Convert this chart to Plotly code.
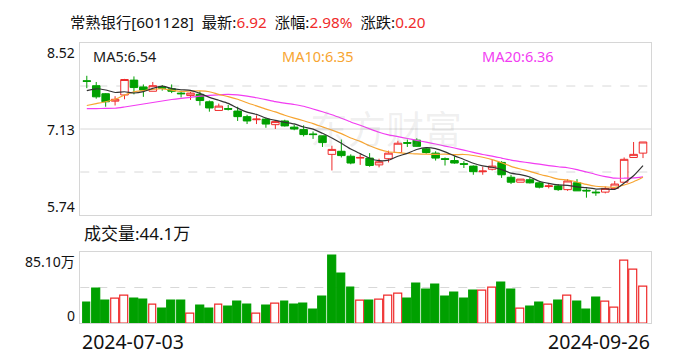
import numpy as np
import pandas as pd
import plotly.graph_objects as go

# ---------------- data ----------------
stock_name = "常熟银行"
stock_code = "601128"
start_label = "2024-07-03"
end_label = "2024-09-26"

opens = [7.91, 7.83, 7.70, 7.58, 7.68, 7.92, 7.81, 7.74, 7.81, 7.78,
         7.71, 7.67, 7.69, 7.57, 7.43, 7.46, 7.42, 7.33, 7.28, 7.29,
         7.20, 7.26, 7.16, 7.12, 7.05, 7.02, 6.72, 6.77, 6.69, 6.66,
         6.66, 6.55, 6.65, 6.75, 6.91, 6.95, 6.81, 6.74, 6.65, 6.62,
         6.57, 6.53, 6.44, 6.48, 6.59, 6.35, 6.27, 6.31, 6.26, 6.20,
         6.21, 6.15, 6.26, 6.14, 6.11, 6.11, 6.17, 6.27, 6.67, 6.74]
highs = [7.99, 7.89, 7.71, 7.66, 7.94, 7.98, 7.85, 7.89, 7.84, 7.85,
         7.75, 7.73, 7.74, 7.59, 7.54, 7.52, 7.49, 7.36, 7.35, 7.31,
         7.26, 7.28, 7.20, 7.19, 7.09, 7.02, 6.86, 6.96, 6.72, 6.72,
         6.74, 6.65, 6.78, 6.94, 6.96, 6.98, 6.83, 6.77, 6.67, 6.69,
         6.61, 6.54, 6.52, 6.63, 6.61, 6.39, 6.32, 6.35, 6.29, 6.25,
         6.24, 6.32, 6.32, 6.17, 6.15, 6.20, 6.29, 6.67, 6.92, 6.92]
lows = [7.79, 7.62, 7.49, 7.51, 7.61, 7.69, 7.65, 7.74, 7.75, 7.71,
        7.64, 7.60, 7.51, 7.41, 7.43, 7.43, 7.26, 7.21, 7.21, 7.15,
        7.13, 7.17, 7.11, 7.01, 6.97, 6.84, 6.46, 6.67, 6.56, 6.55,
        6.52, 6.51, 6.59, 6.75, 6.84, 6.85, 6.73, 6.62, 6.54, 6.57,
        6.50, 6.39, 6.39, 6.46, 6.34, 6.24, 6.27, 6.25, 6.17, 6.17,
        6.13, 6.13, 6.13, 6.02, 6.05, 6.09, 6.17, 6.27, 6.67, 6.66]
closes = [7.90, 7.65, 7.57, 7.61, 7.93, 7.80, 7.76, 7.83, 7.79, 7.74,
          7.70, 7.71, 7.59, 7.47, 7.50, 7.45, 7.33, 7.26, 7.29, 7.21,
          7.25, 7.18, 7.13, 7.04, 7.04, 6.91, 6.80, 6.70, 6.58, 6.67,
          6.54, 6.60, 6.74, 6.90, 6.90, 6.85, 6.75, 6.66, 6.64, 6.58,
          6.56, 6.44, 6.45, 6.53, 6.39, 6.27, 6.32, 6.26, 6.19, 6.21,
          6.15, 6.29, 6.13, 6.13, 6.10, 6.17, 6.24, 6.64, 6.72, 6.92]
# volume in 万 (10k shares)
volumes = [24.5, 40.8, 26.5, 29.7, 33.3, 28.9, 27.7, 22.6, 17.0, 26.5,
           26.5, 11.9, 20.6, 17.0, 22.6, 19.4, 25.3, 21.7, 11.9, 20.6,
           23.8, 25.3, 21.7, 22.9, 15.8, 31.3, 80.0, 58.6, 42.0, 27.3,
           26.5, 28.5, 33.3, 35.7, 28.9, 46.7, 39.6, 45.5, 31.3, 36.0,
           28.9, 38.4, 38.4, 42.0, 47.9, 39.6, 17.0, 19.4, 24.1, 21.7,
           26.5, 33.3, 25.3, 15.8, 30.1, 25.3, 18.2, 74.0, 63.3, 44.1]

ma5_head = [7.75, 7.78, 7.76, 7.72]
ma10_head = [7.51, 7.54, 7.57, 7.61, 7.68, 7.73, 7.75, 7.77, 7.78]
ma20_head = [7.458, 7.460, 7.463, 7.465, 7.486, 7.510, 7.534, 7.558, 7.583, 7.607,
             7.626, 7.642, 7.660, 7.673, 7.683, 7.689, 7.680, 7.660, 7.635]

price_ticks = [8.52, 7.13, 5.74]
vol_max = 85.10

# ---------------- derived ----------------
RED = "#ef2b2b"
GREEN = "#00a000"
FONT = "Noto Sans, Noto Sans CJK SC, sans-serif"

n = len(closes)
xs = list(range(n))
cs = pd.Series(closes)


def ma(win, head):
    m = cs.rolling(win).mean().to_numpy()
    m[:len(head)] = head
    return m


ma5 = ma(5, ma5_head)
ma10 = ma(10, ma10_head)
ma20 = ma(20, ma20_head)

up_vol = [(closes[i] > closes[i - 1]) if i > 0 else (closes[0] > opens[0]) for i in range(n)]
bar_fill = ["white" if u else GREEN for u in up_vol]
bar_line = [RED if u else GREEN for u in up_vol]

last = closes[-1]
chg = closes[-1] - closes[-2]
pct = chg / closes[-2] * 100

W, H = 688, 360
L, R = 80.3, 651.3
P_TOP, P_BOT = 43.0, 215.0
V_TOP, V_BOT = 251.7, 323.3


def px(x):
    return x / W


def py(y):
    return 1 - y / H


fig = go.Figure()

fig.add_trace(go.Candlestick(
    x=xs, open=opens, high=highs, low=lows, close=closes,
    increasing=dict(line=dict(color=RED, width=1), fillcolor="white"),
    decreasing=dict(line=dict(color=GREEN, width=1), fillcolor=GREEN),
    whiskerwidth=0, showlegend=False, hoverinfo="skip",
    xaxis="x", yaxis="y"))

for vals, col in [(ma20, "#f23cf2"), (ma10, "#f7a531"), (ma5, "#333333")]:
    fig.add_trace(go.Scatter(x=xs, y=vals, mode="lines",
                             line=dict(color=col, width=1.2, shape="spline", smoothing=0.6),
                             showlegend=False, hoverinfo="skip",
                             xaxis="x", yaxis="y"))

fig.add_trace(go.Bar(x=xs, y=volumes, width=0.84,
                     marker=dict(color=bar_fill, line=dict(color=bar_line, width=1.2)),
                     showlegend=False, hoverinfo="skip",
                     xaxis="x2", yaxis="y2"))

xr = [-0.69, 59.88]
axis_common = dict(showgrid=False, zeroline=False, showticklabels=False,
                   showline=True, mirror=True, linecolor="#d6d6d6", linewidth=1,
                   ticks="", fixedrange=True)

fig.update_layout(
    width=W, height=H,
    margin=dict(l=0, r=0, t=0, b=0),
    paper_bgcolor="white", plot_bgcolor="white",
    boxgap=0.2, boxgroupgap=0,
    bargap=0,
    xaxis=dict(domain=[px(L), px(R)], range=xr, anchor="y",
               rangeslider=dict(visible=False), **axis_common),
    yaxis=dict(domain=[py(P_BOT), py(P_TOP)], range=[price_ticks[-1], price_ticks[0]],
               anchor="x", **axis_common),
    xaxis2=dict(domain=[px(L), px(R)], range=xr, anchor="y2", **axis_common),
    yaxis2=dict(domain=[py(V_BOT), py(V_TOP)], range=[0, vol_max], anchor="x2", **axis_common),
)

# grid lines
lo, hi = price_ticks[-1], price_ticks[0]
step = (hi - lo) / 4
shapes = []
for k, dash in [(1, "dash"), (2, "solid"), (3, "dash")]:
    yv = lo + k * step
    shapes.append(dict(type="line", xref="x domain", yref="y", x0=0, x1=1, y0=yv, y1=yv,
                       line=dict(color="#d8d8d8", width=1, dash=dash),
                       layer="below"))
shapes.append(dict(type="line", xref="x2 domain", yref="y2", x0=0, x1=1,
                   y0=vol_max / 2, y1=vol_max / 2,
                   line=dict(color="#d8d8d8", width=1, dash="dash"), layer="below"))
fig.update_layout(shapes=shapes)

ann = []


def add_text(text, x, y, size, color="#111111", xanchor="left"):
    ann.append(dict(text=text, x=px(x), y=py(y), xref="paper", yref="paper",
                    xanchor=xanchor, yanchor="middle", showarrow=False,
                    font=dict(family=FONT, size=size, color=color)))


red_span = lambda s: f"<span style='color:{RED}'>{s}</span>"
title = (f"{stock_name}[{stock_code}]&nbsp;&nbsp;最新:{red_span(f'{last:.2f}')}"
         f"&nbsp;&nbsp;涨幅:{red_span(f'{pct:.2f}%')}&nbsp;&nbsp;涨跌:{red_span(f'{chg:.2f}')}")
add_text(title, 68, 22, 15.3)

add_text(f"MA5:{ma5[-1]:.2f}", 90.5, 56, 14.5, "#1a1a1a")
add_text(f"MA10:{ma10[-1]:.2f}", 280, 56, 14.5, "#f7a531")
add_text(f"MA20:{round(ma20[-1] + 1e-9, 2):.2f}", 480, 56, 14.5, "#f23cf2")

add_text(f"{price_ticks[0]:.2f}", 77, 52.5, 14, xanchor="right")
add_text(f"{price_ticks[1]:.2f}", 77, 129, 14, xanchor="right")
add_text(f"{price_ticks[2]:.2f}", 77, 206, 14, xanchor="right")

add_text(f"成交量:{volumes[-1]:.1f}万", 82, 233, 17)
add_text(f"{vol_max:.2f}万", 77, 261, 14, xanchor="right")
add_text("0", 77, 315.5, 14, xanchor="right")

add_text(start_label, 80, 341.5, 19.5)
add_text(end_label, 652, 341.5, 19.5, xanchor="right")

# faint watermark
add_text("东方财富", 308, 128, 38, "rgba(160,160,160,0.16)")

fig.update_layout(annotations=ann)

fig.write_html("out.html")
